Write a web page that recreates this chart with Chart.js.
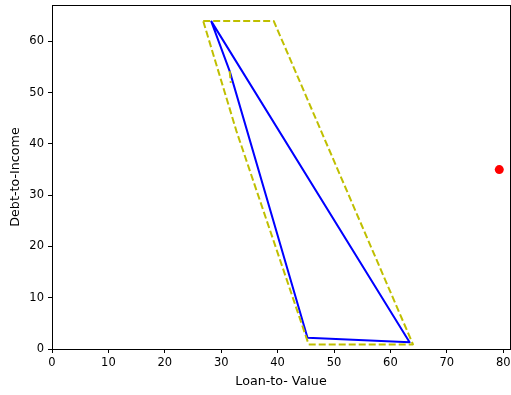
<!DOCTYPE html>
<html>
<head>
<meta charset="utf-8">
<script src="https://cdn.jsdelivr.net/npm/chart.js@4/dist/chart.umd.min.js"></script>
<style>
  html, body { margin: 0; padding: 0; background: #fff; }
  #wrap { width: 511px; height: 395px; }
</style>
</head>
<body>
<div id="wrap"><canvas id="chart"></canvas></div>
<script>
// blue polygon (solid)
const blueLTV = [28.2, 31.5, 45.3, 63.4, 28.2]
const blueDTI = [64.0, 54.2, 2.2, 1.3, 64.0]
// yellow outline (dashed)
const yellowLTV = [26.8, 39.3, 64.0, 45.5, 32.7, 26.8]
const yellowDTI = [64.0, 64.0, 0.9, 0.9, 42.5, 64.0]
// small yellow piece near the kink
const spurLTV = [31.5, 31.7]
const spurDTI = [54.2, 51.9]
// single red point
const pointLTV = [79.3]
const pointDTI = [35.0]

const xTicks = [0, 10, 20, 30, 40, 50, 60, 70, 80]
const yTicks = [0, 10, 20, 30, 40, 50, 60]

const toXY = (xs, ys) => xs.map((x, i) => ({ x: x, y: ys[i] }))

Chart.defaults.font.family = 'DejaVu Sans'
Chart.defaults.font.size = 11.5
Chart.defaults.color = '#000'

// draw the top and right spines too
const frame = {
  id: 'frame',
  afterDraw(chart) {
    const { ctx, chartArea: a } = chart
    ctx.save()
    ctx.strokeStyle = '#000'
    ctx.lineWidth = 1
    ctx.strokeRect(Math.round(a.left) + 0.5, Math.round(a.top) + 0.5,
      Math.round(a.right - a.left), Math.round(a.bottom - a.top))
    ctx.restore()
  }
}

const lineSet = (data, color, dash) => ({
  data: data,
  showLine: true,
  borderColor: color,
  backgroundColor: color,
  borderWidth: 2,
  borderDash: dash,
  borderJoinStyle: 'round',
  borderCapStyle: 'butt',
  pointRadius: 0,
  fill: false,
  tension: 0
})

new Chart(document.getElementById('chart'), {
  type: 'scatter',
  data: {
    datasets: [
      lineSet(toXY(yellowLTV, yellowDTI), '#bfbf00', [7, 3]),
      lineSet(toXY(spurLTV, spurDTI), '#bfbf00', [7, 3]),
      lineSet(toXY(blueLTV, blueDTI), '#0000ff', []),
      {
        data: toXY(pointLTV, pointDTI),
        showLine: false,
        pointRadius: 4.5,
        pointBorderWidth: 0,
        backgroundColor: '#ff0000',
        borderColor: '#ff0000'
      }
    ]
  },
  options: {
    responsive: true,
    maintainAspectRatio: false,
    animation: false,
    // the red point's radius would otherwise push the plot area in from the right
    layout: { autoPadding: false, padding: { top: 5, right: 1, left: 0, bottom: 0 } },
    plugins: { legend: { display: false }, tooltip: { enabled: false } },
    scales: {
      x: {
        type: 'linear',
        min: 0,
        max: 81.2,
        afterBuildTicks: s => { s.ticks = xTicks.map(v => ({ value: v })) },
        afterFit: s => { s.height = 46; s.paddingRight = 0; s.paddingLeft = 0 },
        ticks: { padding: 3, maxRotation: 0 },
        grid: { drawOnChartArea: false, drawTicks: true, tickLength: 4, color: '#000' },
        border: { display: true, color: '#000' },
        title: { display: true, text: 'Loan-to- Value', font: { size: 12.7 }, padding: { top: 0, bottom: 6 } }
      },
      y: {
        type: 'linear',
        min: 0,
        max: 67.1,
        afterBuildTicks: s => { s.ticks = yTicks.map(v => ({ value: v })) },
        afterFit: s => { s.width = 52; s.paddingTop = 0; s.paddingBottom = 0 },
        ticks: { padding: 4 },
        grid: { drawOnChartArea: false, drawTicks: true, tickLength: 4, color: '#000' },
        border: { display: true, color: '#000' },
        title: { display: true, text: 'Debt-to-Income', font: { size: 12.7 }, padding: { top: 8, bottom: 0 } }
      }
    }
  },
  plugins: [frame]
})
</script>
</body>
</html>
